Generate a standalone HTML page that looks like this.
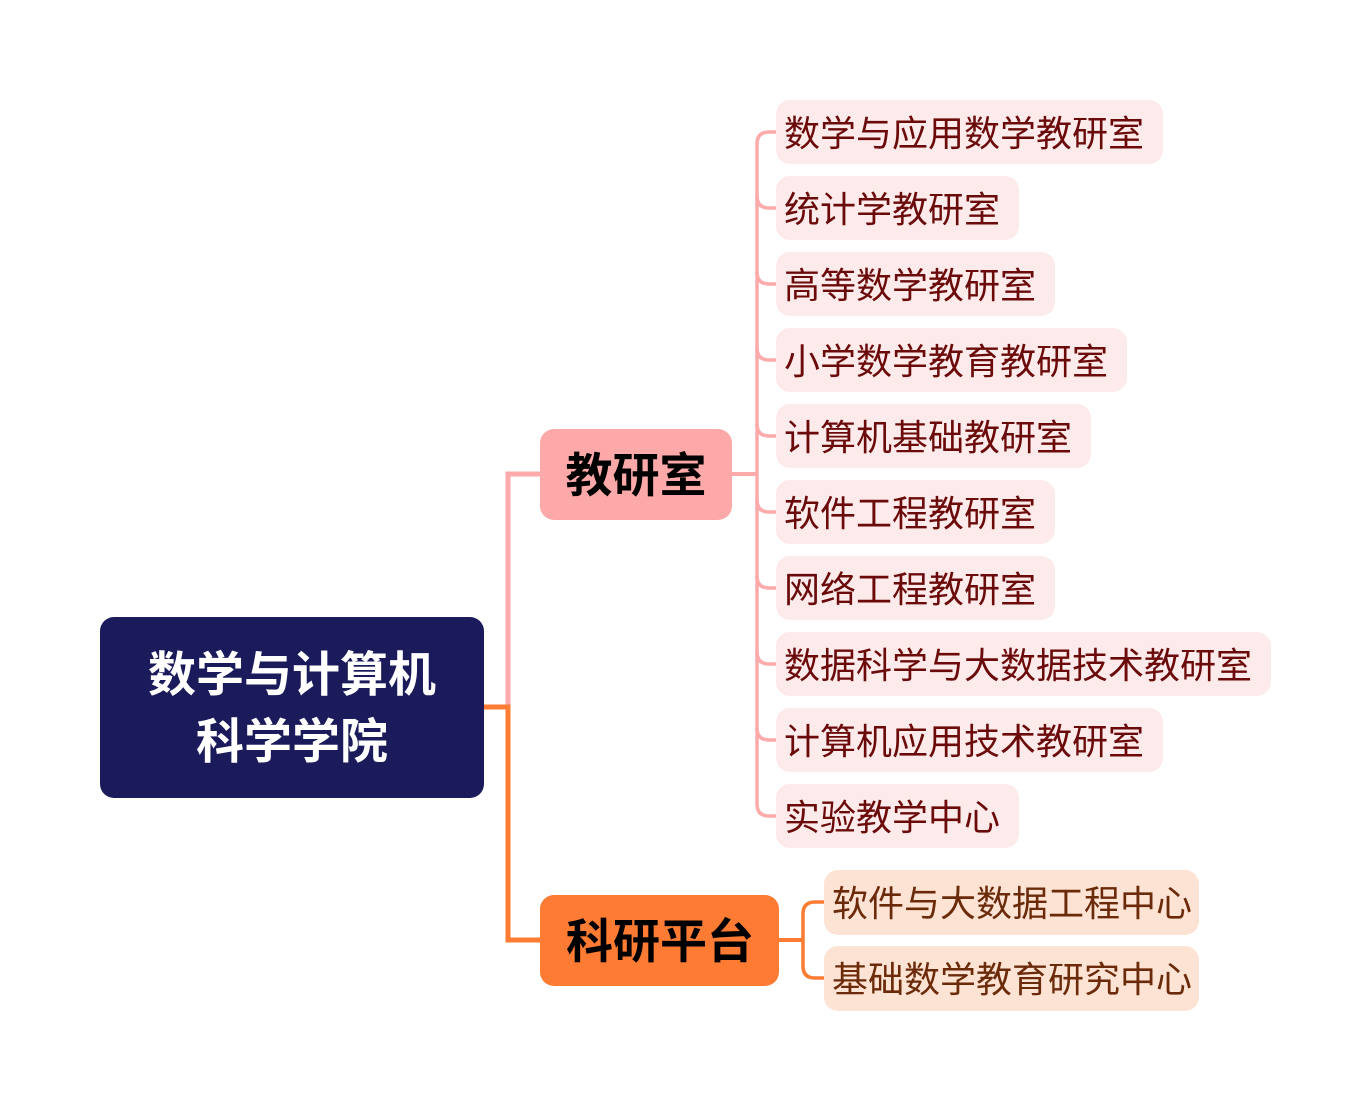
<!DOCTYPE html>
<html><head><meta charset="utf-8"><style>
html,body{margin:0;padding:0;background:#fff}
svg{display:block}
text{font-family:"Liberation Sans","Noto Sans CJK SC",sans-serif}
</style></head><body>
<svg width="1372" height="1112" viewBox="0 0 1372 1112" xmlns="http://www.w3.org/2000/svg">
<g fill="none" stroke-width="5">
<path d="M484 707 H508 V474 H540" stroke="#fcaaaa"/>
<path d="M484 707 H508 V940 H540" stroke="#fd7b33"/>
<path d="M732 474 H757" stroke="#fcaaaa" stroke-width="4"/>
<path d="M779 940 H803" stroke="#fd7b33" stroke-width="4"/>
</g>
<g fill="none" stroke="#fcaaaa" stroke-width="3.5">
<path d="M776 132 H769 Q757 132 757 144 V804 Q757 816 769 816 H776"/>
<path d="M757 196 Q757 208 769 208 H776"/>
<path d="M757 272 Q757 284 769 284 H776"/>
<path d="M757 348 Q757 360 769 360 H776"/>
<path d="M757 424 Q757 436 769 436 H776"/>
<path d="M757 500 Q757 512 769 512 H776"/>
<path d="M757 576 Q757 588 769 588 H776"/>
<path d="M757 652 Q757 664 769 664 H776"/>
<path d="M757 728 Q757 740 769 740 H776"/>
</g>
<path d="M824 902 H815 Q803 902 803 914 V966 Q803 978 815 978 H824" fill="none" stroke="#fd7b33" stroke-width="3.5"/>

<rect x="100" y="617" width="384" height="181" rx="14" fill="#1b1a5b"/>
<text x="292" y="691" font-size="48" font-weight="bold" fill="#fff" text-anchor="middle">数学与计算机</text>
<text x="292" y="758" font-size="48" font-weight="bold" fill="#fff" text-anchor="middle">科学学院</text>

<rect x="540" y="429" width="192" height="91" rx="14" fill="#fea9a9"/>
<text x="636" y="492" font-size="47" font-weight="bold" fill="#000" text-anchor="middle">教研室</text>
<rect x="540" y="895" width="239" height="91" rx="14" fill="#fd7b33"/>
<text x="660" y="958" font-size="47" font-weight="bold" fill="#000" text-anchor="middle">科研平台</text>

<g fill="#fdeaea">
<rect x="776" y="100" width="387" height="64" rx="14"/>
<rect x="776" y="176" width="243" height="64" rx="14"/>
<rect x="776" y="252" width="279" height="64" rx="14"/>
<rect x="776" y="328" width="351" height="64" rx="14"/>
<rect x="776" y="404" width="315" height="64" rx="14"/>
<rect x="776" y="480" width="279" height="64" rx="14"/>
<rect x="776" y="556" width="279" height="64" rx="14"/>
<rect x="776" y="632" width="495" height="64" rx="14"/>
<rect x="776" y="708" width="387" height="64" rx="14"/>
<rect x="776" y="784" width="243" height="64" rx="14"/>
</g>
<g fill="#6b0a0a" font-size="36">
<text x="784" y="146">数学与应用数学教研室</text>
<text x="784" y="222">统计学教研室</text>
<text x="784" y="298">高等数学教研室</text>
<text x="784" y="374">小学数学教育教研室</text>
<text x="784" y="450">计算机基础教研室</text>
<text x="784" y="526">软件工程教研室</text>
<text x="784" y="602">网络工程教研室</text>
<text x="784" y="678">数据科学与大数据技术教研室</text>
<text x="784" y="754">计算机应用技术教研室</text>
<text x="784" y="830">实验教学中心</text>
</g>
<g fill="#fde3d3">
<rect x="824" y="870" width="375" height="65" rx="14"/>
<rect x="824" y="946" width="375" height="65" rx="14"/>
</g>
<g fill="#6b2a0a" font-size="36">
<text x="832" y="916">软件与大数据工程中心</text>
<text x="832" y="992">基础数学教育研究中心</text>
</g>
</svg>
</body></html>
